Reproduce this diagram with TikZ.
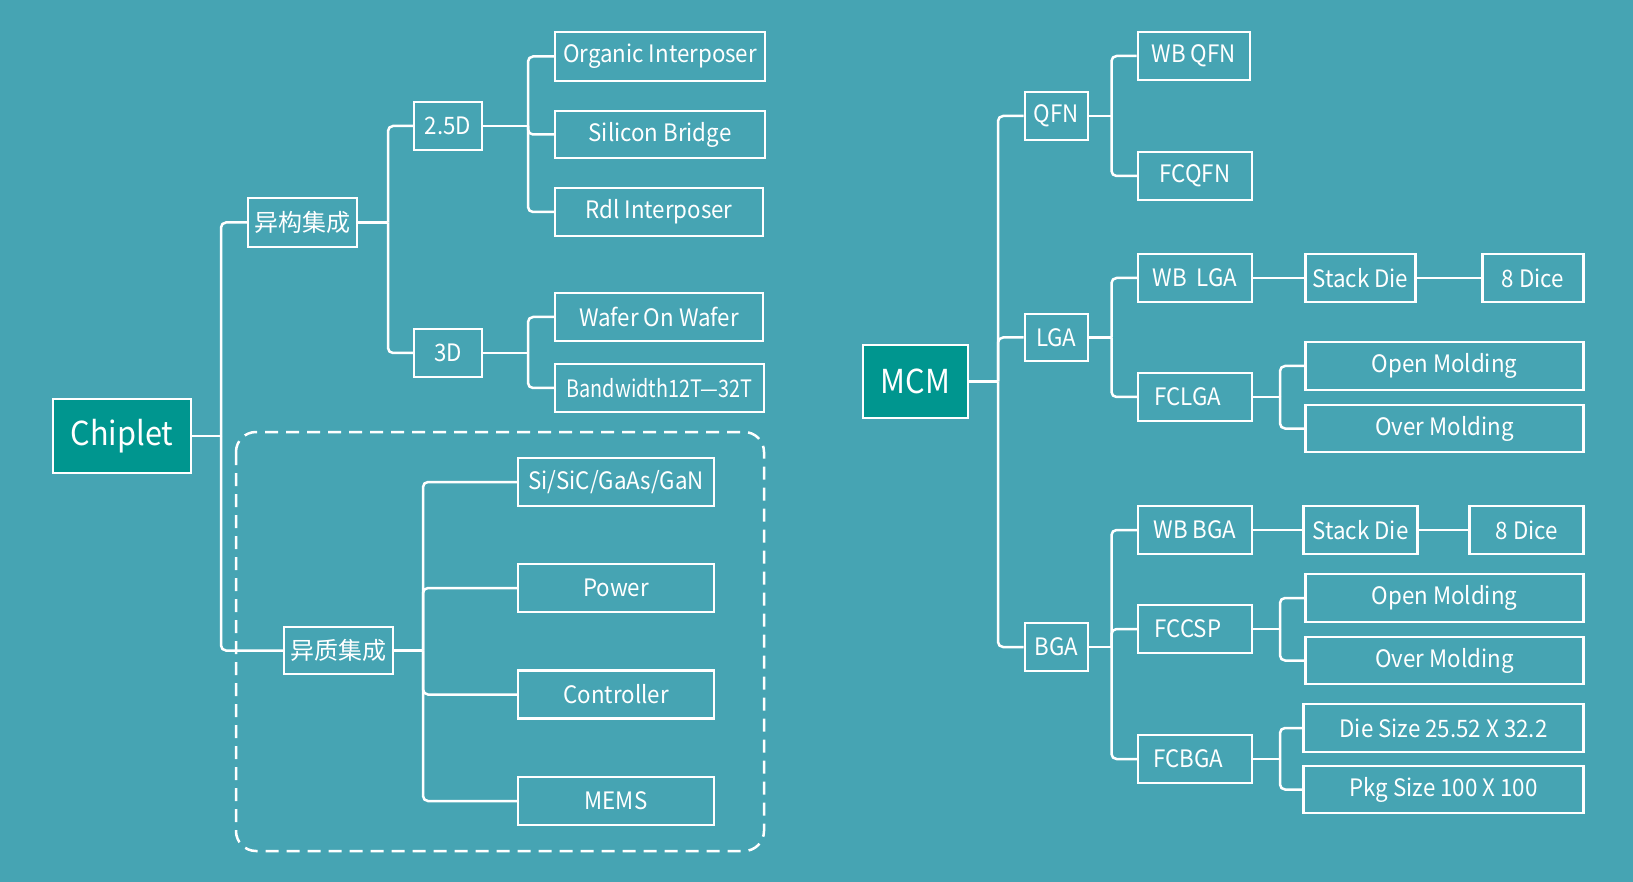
\documentclass[tikz,border=0pt]{standalone}
\usepackage{fontspec}
\usepackage{graphicx}
\setmainfont{Noto Sans CJK SC}[FakeStretch=0.93]
\newfontfamily\cjk{Noto Sans CJK SC}
\definecolor{bgc}{HTML}{46A4B3}
\definecolor{fillc}{HTML}{00968F}
\begin{document}
\begin{tikzpicture}[x=1pt,y=-1pt,
  box/.style={draw=white, line width=2.5pt, inner sep=0pt, text=white,
    font=\fontsize{24}{24}\selectfont},
  bigbox/.style={box, fill=fillc, font=\fontsize{33}{33}\selectfont},
  conn/.style={draw=white, line width=2.5pt, rounded corners=5pt},
  frame/.style={draw=white, line width=2.5pt, dash pattern=on 13pt off 8pt, rounded corners=20pt},
]
\fill[bgc] (0,0) rectangle (1633,882);
\useasboundingbox (0,0) rectangle (1633,882);

% ---------- left tree ----------
\draw[frame] (236,432) rectangle (764,851);

\node[bigbox, minimum width=138pt, minimum height=74pt] (chiplet) at (122,436) {Chiplet};
\node[box, minimum width=109pt, minimum height=49pt] (yigou) at (302.5,222.5) {\cjk 异构集成};
\node[box, minimum width=109pt, minimum height=47pt] (yizhi) at (338.5,650.5) {\cjk 异质集成};
\node[box, minimum width=68pt, minimum height=48pt] (d25) at (448,126) {2.5D};
\node[box, minimum width=68pt, minimum height=48pt] (d3) at (448,353) {3D};
\node[box, minimum width=210pt, minimum height=49pt] (org) at (660,56.5) {Organic Interposer};
\node[box, minimum width=210pt, minimum height=47pt] (sib) at (660,134.5) {Silicon Bridge};
\node[box, minimum width=208pt, minimum height=48pt] (rdl) at (659,212) {Rdl Interposer};
\node[box, minimum width=208pt, minimum height=48pt] (wow) at (659,317) {Wafer On Wafer};
\node[box, minimum width=209pt, minimum height=48pt] (bw) at (659.5,388) {\scalebox{0.89}[1]{Bandwidth12T—32T}};
\node[box, minimum width=196pt, minimum height=48pt] (sisic) at (616,482) {Si/SiC/GaAs/GaN};
\node[box, minimum width=196pt, minimum height=48pt] (power) at (616,588) {Power};
\node[box, minimum width=196pt, minimum height=48pt] (ctrl) at (616,694.5) {Controller};
\node[box, minimum width=196pt, minimum height=48pt] (mems) at (616,801) {MEMS};

\coordinate (xa) at (221,0);
\coordinate (xb) at (388,0);
\coordinate (xc) at (528,0);
\coordinate (xd) at (423,0);

\draw[conn] (chiplet.east) -- (chiplet.east -| xa);
\draw[conn] (chiplet.east -| xa) |- (yigou.west);
\draw[conn] (chiplet.east -| xa) |- (yizhi.west);

\draw[conn] (yigou.east) -- (yigou.east -| xb);
\draw[conn] (yigou.east -| xb) |- (d25.west);
\draw[conn] (yigou.east -| xb) |- (d3.west);

\draw[conn] (d25.east) -- (d25.east -| xc);
\draw[conn] (d25.east -| xc) |- (org.west);
\draw[conn] (d25.east -| xc) |- (sib.west);
\draw[conn] (d25.east -| xc) |- (rdl.west);

\draw[conn] (d3.east) -- (d3.east -| xc);
\draw[conn] (d3.east -| xc) |- (wow.west);
\draw[conn] (d3.east -| xc) |- (bw.west);

\draw[conn] (yizhi.east) -- (yizhi.east -| xd);
\draw[conn] (yizhi.east -| xd) |- (sisic.west);
\draw[conn] (yizhi.east -| xd) |- (power.west);
\draw[conn] (yizhi.east -| xd) |- (ctrl.west);
\draw[conn] (yizhi.east -| xd) |- (mems.west);

% ---------- right tree ----------
\node[bigbox, minimum width=105pt, minimum height=73pt] (mcm) at (915.4,381.5) {MCM};
\node[box, minimum width=63pt, minimum height=48pt] (qfn) at (1056.25,116) {QFN};
\node[box, minimum width=63pt, minimum height=47pt] (lga) at (1056.25,337.5) {LGA};
\node[box, minimum width=63pt, minimum height=48pt] (bga) at (1056.25,647) {BGA};
\node[box, minimum width=112pt, minimum height=48pt] (wbqfn) at (1193.8,56) {WB QFN};
\node[box, minimum width=114pt, minimum height=48pt] (fcqfn) at (1195,176) {FCQFN};
\node[box, minimum width=114pt, minimum height=48pt] (wblga) at (1195,278) {WB\ \ LGA};
\node[box, minimum width=110pt, minimum height=48pt] (sda) at (1360.3,278) {Stack Die};
\node[box, minimum width=101pt, minimum height=48pt] (dicea) at (1533,278) {8 Dice};
\node[box, minimum width=114pt, minimum height=48pt] (fclga) at (1195,397) {FCLGA\kern15pt};
\node[box, minimum width=278pt, minimum height=48pt] (oma) at (1444.5,366) {Open Molding};
\node[box, minimum width=278pt, minimum height=47pt] (ovma) at (1444.5,428.5) {Over Molding};
\node[box, minimum width=114pt, minimum height=48pt] (wbbga) at (1195,530) {WB BGA};
\node[box, minimum width=114pt, minimum height=48pt] (sdb) at (1360.5,530) {Stack Die};
\node[box, minimum width=114pt, minimum height=48pt] (diceb) at (1526.7,530) {8 Dice};
\node[box, minimum width=114pt, minimum height=48pt] (fccsp) at (1195,629) {FCCSP\kern14pt};
\node[box, minimum width=278pt, minimum height=48pt] (omb) at (1444.5,598) {Open Molding};
\node[box, minimum width=278pt, minimum height=47pt] (ovmb) at (1444.5,660.5) {Over Molding};
\node[box, minimum width=114pt, minimum height=48pt] (fcbga) at (1195,759) {FCBGA\kern14pt};
\node[box, minimum width=280pt, minimum height=48pt] (die) at (1443.5,728) {Die Size 25.52 X 32.2};
\node[box, minimum width=280pt, minimum height=47pt] (pkg) at (1443.5,789.5) {Pkg Size 100 X 100};

\coordinate (xm) at (998,0);
\coordinate (xq) at (1111.5,0);
\coordinate (xf) at (1280,0);

\draw[conn] (mcm.east) -- (mcm.east -| xm);
\draw[conn] (mcm.east -| xm) |- (qfn.west);
\draw[conn] (mcm.east -| xm) |- (lga.west);
\draw[conn] (mcm.east -| xm) |- (bga.west);

\draw[conn] (qfn.east) -- (qfn.east -| xq);
\draw[conn] (qfn.east -| xq) |- (wbqfn.west);
\draw[conn] (qfn.east -| xq) |- (fcqfn.west);

\draw[conn] (lga.east) -- (lga.east -| xq);
\draw[conn] (lga.east -| xq) |- (wblga.west);
\draw[conn] (lga.east -| xq) |- (fclga.west);
\draw[conn] (wblga) -- (sda);
\draw[conn] (sda) -- (dicea);
\draw[conn] (fclga.east) -- (fclga.east -| xf);
\draw[conn] (fclga.east -| xf) |- (oma.west);
\draw[conn] (fclga.east -| xf) |- (ovma.west);

\draw[conn] (bga.east) -- (bga.east -| xq);
\draw[conn] (bga.east -| xq) |- (wbbga.west);
\draw[conn] (bga.east -| xq) |- (fccsp.west);
\draw[conn] (bga.east -| xq) |- (fcbga.west);
\draw[conn] (wbbga) -- (sdb);
\draw[conn] (sdb) -- (diceb);
\draw[conn] (fccsp.east) -- (fccsp.east -| xf);
\draw[conn] (fccsp.east -| xf) |- (omb.west);
\draw[conn] (fccsp.east -| xf) |- (ovmb.west);
\draw[conn] (fcbga.east) -- (fcbga.east -| xf);
\draw[conn] (fcbga.east -| xf) |- (die.west);
\draw[conn] (fcbga.east -| xf) |- (pkg.west);
\end{tikzpicture}
\end{document}
